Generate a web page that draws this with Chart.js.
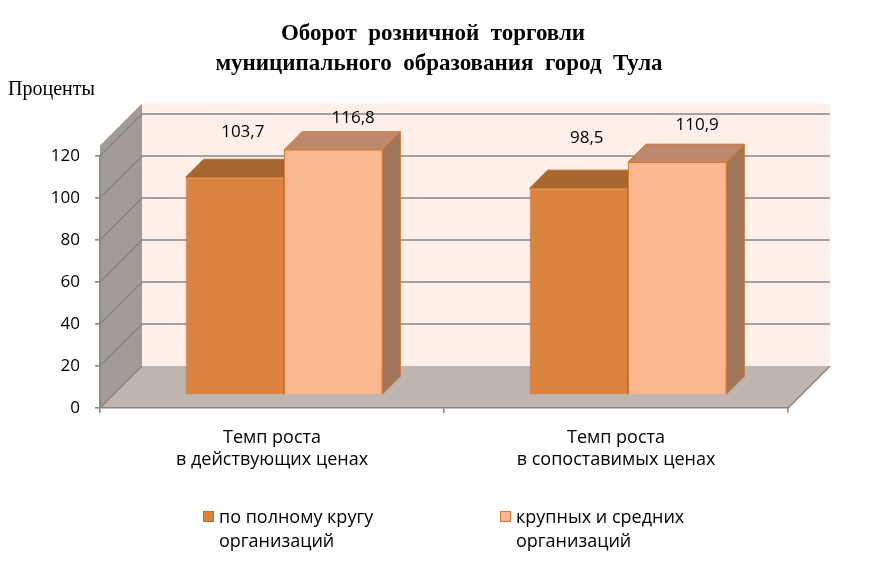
<!DOCTYPE html>
<html>
<head>
<meta charset="utf-8">
<script src="https://cdn.jsdelivr.net/npm/chart.js@4/dist/chart.umd.min.js"></script>
<style>
  html, body { margin: 0; padding: 0; background: #fff; }
  #wrap { width: 881px; height: 566px; position: relative; }
</style>
</head>
<body>
<div id="wrap"><canvas id="myChart"></canvas></div>
<script>
// data
const categories = [["Темп роста", "в действующих ценах"], ["Темп роста", "в сопоставимых ценах"]];
const seriesNames = [["по полному кругу", "организаций"], ["крупных и средних", "организаций"]];
const fullCircle = [103.7, 98.5];
const largeMedium = [116.8, 110.9];
const yTicks = [0, 20, 40, 60, 80, 100, 120];

const titleLines = ["Оборот  розничной  торговли", "муниципального  образования  город  Тула"];
const yTitle = "Проценты";

// 3d look
const WALL_DEPTH = 42;
const WALL_MAX = 125;
const BAR_SHIFT_X = 12, BAR_SHIFT_Y = 13;
const BAR_DEPTH = 18;
const faceColors = [
	{ front: "rgb(219,130,62)", top: "rgb(168,102,48)", side: "rgb(150,92,44)", border: "rgb(190,108,42)" },
	{ front: "rgb(251,183,143)", top: "rgb(189,136,108)", side: "rgb(160,117,90)", border: "rgb(212,122,52)" }
];
const labelDx = [8, 20];
const sansFont = "'Open Sans', sans-serif";

function fmt(v) {
	return v.toFixed(1).replace(".", ",");
}

function poly(ctx, pts, fill, stroke, lw) {
	ctx.beginPath();
	ctx.moveTo(pts[0][0], pts[0][1]);
	for (let i = 1; i < pts.length; i++) ctx.lineTo(pts[i][0], pts[i][1]);
	ctx.closePath();
	if (fill) { ctx.fillStyle = fill; ctx.fill(); }
	if (stroke) { ctx.strokeStyle = stroke; ctx.lineWidth = lw || 1; ctx.stroke(); }
}

const walls3d = {
	id: "walls3d",
	beforeDraw(chart) {
		const ctx = chart.ctx;
		const a = chart.chartArea;
		const ys = chart.scales.y;
		const D = WALL_DEPTH;
		const y0 = ys.getPixelForValue(0);
		const yTop = ys.getPixelForValue(WALL_MAX);
		ctx.save();
		// back wall
		poly(ctx, [[a.left + D, yTop - D], [a.right + D, yTop - D], [a.right + D, y0 - D], [a.left + D, y0 - D]], "rgb(254,240,233)");
		// side wall
		poly(ctx, [[a.left, y0], [a.left, yTop], [a.left + D, yTop - D], [a.left + D, y0 - D]], "rgb(162,154,150)");
		// floor
		poly(ctx, [[a.left, y0], [a.right, y0], [a.right + D, y0 - D], [a.left + D, y0 - D]], "rgb(191,181,177)");
		// gridlines on back and side wall
		ctx.strokeStyle = "rgb(134,134,134)";
		ctx.lineWidth = 1.6;
		yTicks.forEach(v => {
			const py = ys.getPixelForValue(v);
			ctx.beginPath();
			ctx.moveTo(a.left, py);
			ctx.lineTo(a.left + D, py - D);
			if (v > 0) ctx.lineTo(a.right + D, py - D);
			ctx.stroke();
		});
		// floor front-right edge
		ctx.beginPath();
		ctx.moveTo(a.right, y0);
		ctx.lineTo(a.right + D, y0 - D);
		ctx.stroke();
		ctx.restore();
	}
};

const bars3d = {
	id: "bars3d",
	beforeDatasetsDraw(chart) {
		const ctx = chart.ctx;
		const D = BAR_DEPTH;
		ctx.save();
		ctx.translate(BAR_SHIFT_X, -BAR_SHIFT_Y);
		for (let i = 0; i < categories.length; i++) {
			chart.data.datasets.forEach((ds, d) => {
				const bar = chart.getDatasetMeta(d).data[i];
				const p = bar.getProps(["x", "y", "width", "base"], true);
				const l = p.x - p.width / 2, r = p.x + p.width / 2;
				const c = faceColors[d];
				poly(ctx, [[l, p.y], [r, p.y], [r + D, p.y - D], [l + D, p.y - D]], c.top, c.border, 1);
				poly(ctx, [[r, p.y], [r + D, p.y - D], [r + D, p.base - D], [r, p.base]], c.side, c.border, 1);
			});
		}
	},
	afterDatasetsDraw(chart) {
		const ctx = chart.ctx;
		ctx.restore();
		const wallTop = chart.scales.y.getPixelForValue(WALL_MAX) - WALL_DEPTH;
		ctx.save();
		ctx.font = "17px " + sansFont;
		ctx.fillStyle = "#000";
		ctx.textAlign = "center";
		ctx.textBaseline = "middle";
		chart.data.datasets.forEach((ds, d) => {
			chart.getDatasetMeta(d).data.forEach((bar, i) => {
				const backTop = bar.y - BAR_SHIFT_Y - BAR_DEPTH;
				ctx.fillText(fmt(ds.data[i]), bar.x + BAR_SHIFT_X + labelDx[d], (backTop + wallTop) / 2 + 1);
			});
		});
		ctx.restore();
	}
};

const texts = {
	id: "texts",
	afterDraw(chart) {
		const ctx = chart.ctx;
		ctx.save();
		ctx.fillStyle = "#000";
		ctx.textBaseline = "alphabetic";
		ctx.textAlign = "center";
		ctx.font = "bold 23px 'Liberation Serif', serif";
		ctx.fillText(titleLines[0], 433, 40);
		ctx.fillText(titleLines[1], 439, 70);
		ctx.textAlign = "left";
		ctx.font = "20px 'Liberation Serif', serif";
		ctx.fillText(yTitle, 8, 95);
		// legend
		const legendX = [203, 500];
		ctx.font = "18px " + sansFont;
		ctx.textBaseline = "middle";
		seriesNames.forEach((lines, d) => {
			const c = faceColors[d];
			ctx.fillStyle = c.front;
			ctx.fillRect(legendX[d], 511, 11, 11);
			ctx.strokeStyle = c.border;
			ctx.lineWidth = 1;
			ctx.strokeRect(legendX[d] + 0.5, 511.5, 10, 10);
			ctx.fillStyle = "#000";
			lines.forEach((t, k) => ctx.fillText(t, legendX[d] + 16, 518 + k * 24));
		});
		ctx.restore();
	}
};

function makeChart(id) {
	const data = {
		labels: categories,
		datasets: [
			{
				label: seriesNames[0].join(" "),
				data: fullCircle,
				backgroundColor: faceColors[0].front,
				borderColor: faceColors[0].border,
				borderWidth: 1
			},
			{
				label: seriesNames[1].join(" "),
				data: largeMedium,
				backgroundColor: faceColors[1].front,
				borderColor: faceColors[1].border,
				borderWidth: 1
			}
		]
	};
	const config = {
		type: "bar",
		data: data,
		options: {
			responsive: true,
			maintainAspectRatio: false,
			animation: false,
			events: [],
			layout: { padding: { top: 156, right: 93, left: 0, bottom: 0 } },
			datasets: { bar: { categoryPercentage: 0.572, barPercentage: 1, clip: false } },
			plugins: {
				legend: { display: false },
				title: { display: false },
				tooltip: { enabled: false }
			},
			scales: {
				x: {
					afterFit(scale) { scale.height = 158; },
					grid: { drawOnChartArea: false, tickLength: 5, color: "rgb(134,134,134)", lineWidth: 1.6 },
					border: { display: true, color: "rgb(134,134,134)", width: 1.6 },
					ticks: { color: "#000", font: { family: sansFont, size: 18, lineHeight: 1.27 }, padding: 13, maxRotation: 0 }
				},
				y: {
					min: 0,
					max: 120,
					afterFit(scale) { scale.width = 100; },
					afterBuildTicks(scale) { scale.ticks = yTicks.map(v => ({ value: v })); },
					grid: { drawOnChartArea: false, tickLength: 5, color: "rgb(134,134,134)", lineWidth: 1.6 },
					border: { display: true, color: "rgb(134,134,134)", width: 1.6 },
					ticks: { color: "#000", font: { family: sansFont, size: 17 }, padding: 15 }
				}
			}
		},
		plugins: [walls3d, bars3d, texts]
	};
	let ctx = document.getElementById(id).getContext("2d");
	return new Chart(ctx, config);
}

makeChart("myChart");
</script>
</body>
</html>
